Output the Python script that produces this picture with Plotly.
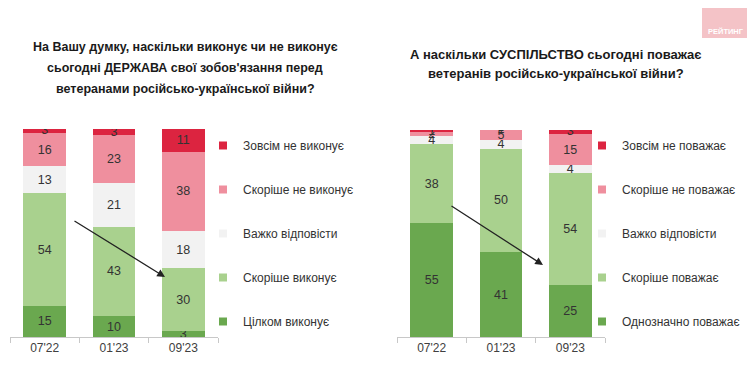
import plotly.graph_objects as go

periods = ["07'22", "01'23", "09'23"]

# Left chart: state fulfils obligations
left_names = ["Цілком виконує", "Скоріше виконує", "Важко відповісти", "Скоріше не виконує", "Зовсім не виконує"]
left_full = [15, 10, 3]
left_rather = [54, 43, 30]
left_hard = [13, 21, 18]
left_rather_not = [16, 23, 38]
left_not = [3, 3, 11]

# Right chart: society respects veterans
right_names = ["Однозначно поважає", "Скоріше поважає", "Важко відповісти", "Скоріше не поважає", "Зовсім не поважає"]
right_full = [55, 41, 25]
right_rather = [38, 50, 54]
right_hard = [4, 4, 4]
right_rather_not = [2, 5, 15]
right_not = [1, 1, 3]

left_title = ["На Вашу думку, наскільки виконує чи не виконує",
              "сьогодні ДЕРЖАВА свої зобов'язання перед",
              "ветеранами російсько-української війни?"]
right_title = ["А наскільки СУСПІЛЬСТВО сьогодні поважає",
               "ветеранів російсько-української війни?"]

colors = ["#6aa84f", "#a9d18e", "#f2f2f2", "#ef8f9e", "#dc2440"]

W, H = 755, 369
OFF = 8  # page body margin
FONT = "Liberation Sans, Arial, sans-serif"

fig = go.Figure()

left_series = [left_full, left_rather, left_hard, left_rather_not, left_not]
right_series = [right_full, right_rather, right_hard, right_rather_not, right_not]


def add_chart(names, series, xa, ya, leg, tag):
    for i, (name, vals) in enumerate(zip(names, series)):
        fig.add_trace(go.Bar(
            x=periods, y=vals, name=name, marker=dict(color=colors[i], line=dict(width=0)),
            text=vals, texttemplate="%{text}", textposition="inside", insidetextanchor="middle",
            textangle=0, constraintext="none", textfont=dict(family=FONT, size=12.5, color="#333333"),
            xaxis=xa, yaxis=ya, showlegend=False, hoverinfo="skip",
        ))
        # legend entry with a small square swatch
        fig.add_trace(go.Scatter(
            x=[None], y=[None], mode="markers", name=name,
            marker=dict(symbol="square", size=8, color=colors[i]),
            xaxis=xa, yaxis=ya, legend=leg, legendgroup="%s%d" % (tag, i), legendrank=100 - i,
            hoverinfo="skip",
        ))


add_chart(left_names, left_series, "x", "y", "legend", "l")
add_chart(right_names, right_series, "x2", "y2", "legend2", "r")


def sx(x):
    return (x - OFF) / W


def sy(y):
    return 1 - (y - OFF) / H


axis_common = dict(showgrid=False, zeroline=False, showline=True, linecolor="#c8c8c8", linewidth=1,
                   ticks="outside", tickson="boundaries", ticklen=5, tickcolor="#c8c8c8",
                   tickfont=dict(family=FONT, size=12, color="#404040"), fixedrange=True)
yaxis_common = dict(visible=False, range=[0, 100], fixedrange=True)

legend_common = dict(font=dict(family=FONT, size=12, color="#333333"), traceorder="grouped",
                     tracegroupgap=25, bgcolor="rgba(0,0,0,0)", xanchor="left", yanchor="top",
                     itemclick=False, itemdoubleclick=False)

fig.update_layout(
    width=W, height=H, margin=dict(l=0, r=0, t=0, b=0),
    paper_bgcolor="white", plot_bgcolor="white",
    barmode="stack", bargap=0.38, showlegend=True,
    xaxis=dict(domain=[sx(10), sx(218)], anchor="y", **axis_common),
    yaxis=dict(domain=[sy(337), sy(129)], anchor="x", **yaxis_common),
    xaxis2=dict(domain=[sx(397), sx(605)], anchor="y2", **axis_common),
    yaxis2=dict(domain=[sy(337), sy(130)], anchor="x2", **yaxis_common),
    legend=dict(x=sx(203), y=sy(131), **legend_common),
    legend2=dict(x=sx(582), y=sy(131), **legend_common),
)

for k, line in enumerate(left_title):
    fig.add_annotation(xref="paper", yref="paper", x=sx(185), y=sy(47 + 21 * k), xanchor="center",
                       yanchor="middle", text="<b>%s</b>" % line, showarrow=False,
                       font=dict(family=FONT, size=12.5, color="#1a1a1a"))
for k, line in enumerate(right_title):
    fig.add_annotation(xref="paper", yref="paper", x=sx(556), y=sy(54 + 20 * k), xanchor="center",
                       yanchor="middle", text="<b>%s</b>" % line, showarrow=False,
                       font=dict(family=FONT, size=13, color="#1a1a1a"))

# Trend arrows
fig.add_annotation(xref="paper", yref="paper", x=sx(165), y=sy(277), ax=-92, ay=-57,
                   axref="pixel", ayref="pixel", showarrow=True, arrowhead=2, arrowsize=1.2,
                   arrowwidth=1.3, arrowcolor="#222222", text="")
fig.add_annotation(xref="paper", yref="paper", x=sx(543), y=sy(265), ax=-93, ay=-60,
                   axref="pixel", ayref="pixel", showarrow=True, arrowhead=2, arrowsize=1.2,
                   arrowwidth=1.3, arrowcolor="#222222", text="")

# Logo box
fig.add_shape(type="rect", xref="paper", yref="paper", x0=sx(702), x1=1, y0=sy(38), y1=1,
              fillcolor="#f4c3c7", line=dict(width=0), layer="below")
fig.add_annotation(xref="paper", yref="paper", x=sx(726), y=sy(31), xanchor="center", yanchor="middle",
                   text="<b>РЕЙТИНГ</b>", showarrow=False, font=dict(family=FONT, size=7.5, color="white"))

fig.write_html("out.html")
